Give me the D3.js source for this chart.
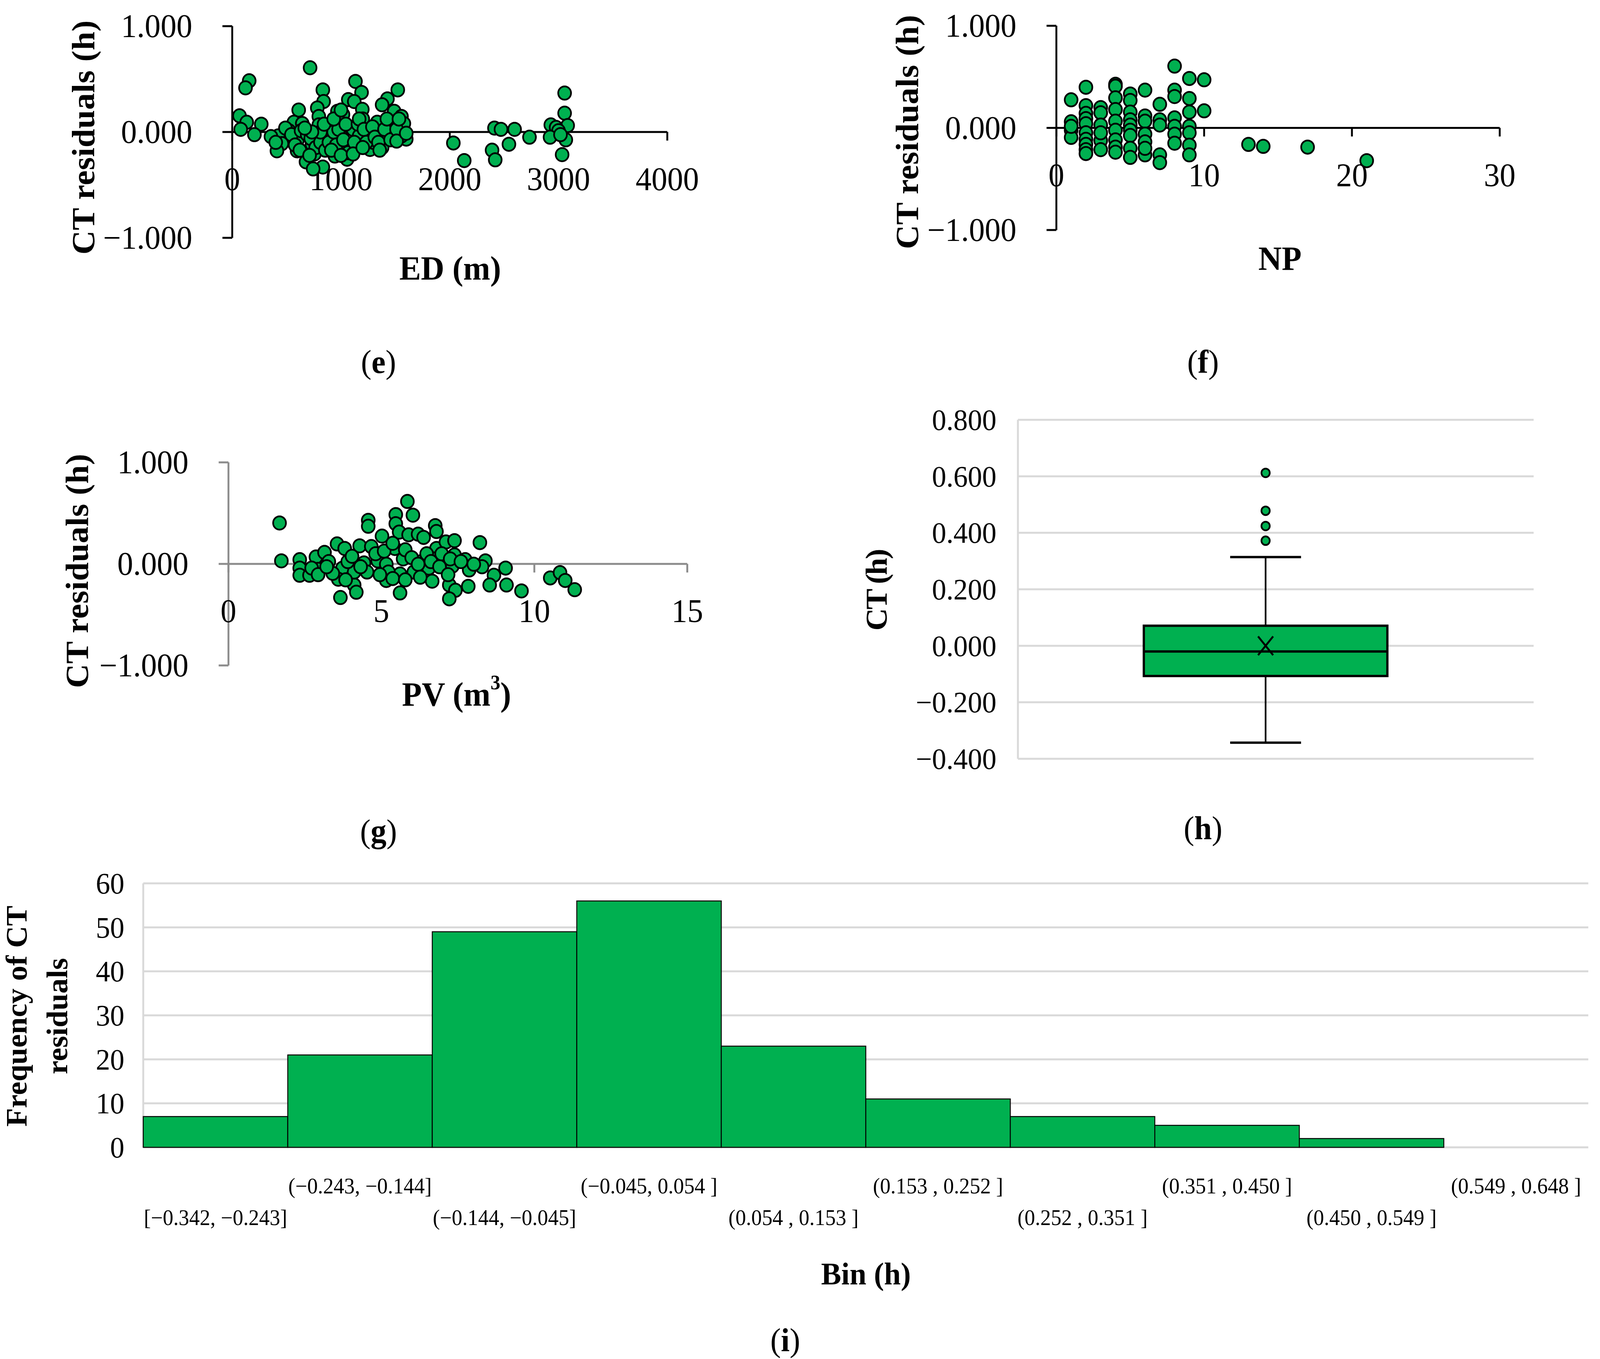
<!DOCTYPE html>
<html><head><meta charset="utf-8">
<script src="https://cdn.jsdelivr.net/npm/d3@7/dist/d3.min.js"></script>
<style>html,body{margin:0;padding:0;background:#fff;width:100%;height:100%;overflow:hidden;} svg{display:block;width:100%;height:100%;}</style>
</head><body><svg id="c" viewBox="0 0 4244 3480" preserveAspectRatio="none"></svg>
<script>
// ---------------- DATA ----------------
const edPoints = [
 [716,0.607],[156,0.484],[122,0.417],[67,0.153],[133,0.092],[78,0.025],[267,0.074],[204,-0.025],
 [1133,0.478],[1189,0.374],[833,0.398],[840,0.288],[782,0.227],[611,0.208],[1067,0.306],[1122,0.288],
 [1196,0.214],[1522,0.398],[1427,0.313],[1378,0.257],[1489,0.196],[1556,0.147],[1578,0.080],[967,0.196],
 [1018,0.165],[796,0.147],[567,0.092],[644,0.080],[796,0.067],[522,0.012],[422,-0.037],[456,-0.110],
 [411,-0.178],[600,-0.074],[596,-0.178],[733,-0.116],[678,-0.282],[756,-0.208],[833,-0.331],[744,-0.349],
 [889,-0.043],[944,-0.227],[1089,-0.147],[1056,-0.257],[1111,0.025],[1267,-0.025],[1267,-0.165],[1378,-0.006],
 [1378,-0.147],[1489,-0.025],[1600,-0.067],[1333,0.092],[1200,0.123],[911,0.061],[1000,-0.037],[1300,-0.098],
 [1167,-0.037],[1433,0.049],[1556,-0.037],
 [2033,-0.104],[2133,-0.270],[2411,0.037],[2471,0.025],[2596,0.025],[2733,-0.049],[2544,-0.116],[2389,-0.172],
 [2418,-0.263],[3056,0.368],[3056,0.178],[2929,0.067],[3084,0.061],[2978,0.043],[3000,0.012],[2922,-0.049],
 [3067,-0.074],[3033,-0.214],[3018,-0.025],
 [356,-0.043],[400,-0.098],[489,0.037],[544,-0.025],[633,0.012],[689,-0.025],[722,-0.061],[767,-0.147],
 [811,-0.098],[856,-0.172],[889,-0.098],[933,0.0],[956,-0.123],[978,0.025],[1022,-0.074],[1044,0.074],
 [1067,-0.196],[1122,-0.098],[1156,0.074],[1167,0.123],[1211,0.025],[1233,-0.098],[1289,0.049],[1311,-0.049],
 [1344,-0.098],[1400,0.025],[1422,0.123],[1456,-0.074],[1511,0.025],[1533,0.123],[811,0.0],[844,0.074],
 [933,0.123],[1000,0.208],[733,0.0],[667,0.037],[578,-0.123],[622,-0.172],[711,-0.221],[911,-0.172],
 [1000,-0.221],[1111,-0.208],[1200,-0.147],[1356,-0.172],[1511,-0.086],[1600,-0.012]
];
const npPoints = [
 [1,0.275],[1,0.060],[1,-0.023],[1,-0.093],[1,0.015],
 [2,0.398],[2,0.218],[2,0.142],[2,0.091],[2,0.041],[2,-0.048],[2,-0.112],[2,-0.162],[2,-0.213],[2,-0.251],
 [3,0.199],[3,0.148],[3,0.028],[3,-0.124],[3,-0.213],[3,-0.048],
 [4,0.427],[4,0.408],[4,0.294],[4,0.180],[4,0.066],[4,-0.023],[4,-0.118],[4,-0.188],[4,-0.238],
 [5,0.332],[5,0.269],[5,0.155],[5,0.079],[5,0.028],[5,-0.023],[5,-0.074],[5,-0.200],[5,-0.289],
 [6,0.370],[6,0.117],[6,0.066],[6,-0.061],[6,-0.137],[6,-0.264],[6,-0.200],
 [7,0.231],[7,0.079],[7,0.028],[7,-0.264],[7,-0.340],
 [8,0.605],[8,0.370],[8,0.307],[8,0.098],[8,0.015],[8,-0.061],[8,-0.150],
 [9,0.484],[9,0.288],[9,0.155],[9,0.015],[9,-0.048],[9,-0.169],[9,-0.264],
 [10,0.471],[10,0.167],
 [13,-0.162],[14,-0.181],[17,-0.188],[21,-0.321]
];
const pvPoints = [
 [1.67,0.403],[1.73,0.030],[2.33,0.042],[2.33,-0.041],[2.33,-0.112],[2.65,-0.112],[2.86,0.068],[2.93,-0.054],
 [3.14,0.113],[3.55,0.197],[3.80,0.152],[3.73,-0.041],[3.59,-0.151],[3.66,-0.331],[4.11,-0.208],[4.18,-0.279],
 [4.11,-0.080],[4.29,0.178],[4.43,0.010],[4.57,0.429],[4.57,0.371],[4.67,0.171],[4.53,-0.080],[4.88,0.030],
 [5.02,0.274],[5.16,-0.003],[5.16,-0.163],[5.47,0.486],[5.47,0.396],[5.44,0.152],[5.58,0.313],[5.71,0.049],
 [5.61,-0.099],[5.61,-0.286],[5.85,0.615],[6.03,0.480],[5.89,0.287],[6.20,0.293],[6.38,0.261],[6.31,0.023],
 [6.55,-0.041],[6.66,-0.170],[6.76,0.377],[6.80,0.319],[6.80,0.152],[6.76,0.049],[7.11,0.216],[7.39,0.229],
 [7.39,0.088],[7.32,-0.022],[7.22,-0.208],[7.42,-0.260],[7.22,-0.344],[7.74,0.042],[7.84,-0.221],[7.87,-0.060],
 [8.22,0.210],[8.40,0.030],[8.29,-0.028],[8.68,-0.112],[8.54,-0.208],[9.06,-0.041],[9.09,-0.208],[9.58,-0.266],
 [10.52,-0.138],[10.84,-0.086],[11.01,-0.163],[11.32,-0.254],
 [2.72,-0.041],[3.28,0.023],[3.41,-0.093],[3.90,0.023],[4.04,0.075],[3.83,-0.157],[4.32,-0.028],[4.81,0.100],
 [5.09,0.126],[5.23,-0.080],[5.37,0.203],[5.78,0.139],[5.99,0.062],[6.06,-0.080],[6.20,-0.003],[6.48,0.100],
 [6.62,0.023],[6.90,-0.028],[6.97,0.100],[7.18,-0.106],[7.25,0.049],[7.60,0.023],[8.02,-0.003],[5.37,-0.144],
 [5.78,-0.157],[6.27,-0.131],[4.95,-0.106],[2.93,-0.106],[3.21,-0.028]
];
const residualTicks = [-1, 0, 1];
const edTicks = [0, 1000, 2000, 3000, 4000];
const npTicks = [0, 10, 20, 30];
const pvTicks = [0, 5, 10, 15];

const boxWhiskers = [-0.343, 0.314];
const boxQuartiles = [-0.107, -0.020, 0.071]; // Q1, median, Q3
const boxMean = 0.000;
const boxOutliers = [0.612, 0.478, 0.424, 0.372];
const boxTicks = [-0.4, -0.2, 0, 0.2, 0.4, 0.6, 0.8];

const binLabels = ["[\u22120.342, \u22120.243]","(\u22120.243, \u22120.144]","(\u22120.144, \u22120.045]","(\u22120.045, 0.054 ]",
 "(0.054 , 0.153 ]","(0.153 , 0.252 ]","(0.252 , 0.351 ]","(0.351 , 0.450 ]","(0.450 , 0.549 ]","(0.549 , 0.648 ]"];
const binCounts = [7, 21, 49, 56, 23, 11, 7, 5, 2, 0];
const freqTicks = [0, 10, 20, 30, 40, 50, 60];

// ---------------- DRAW ----------------
const GREEN = "#00b050";
const FONT = "'Liberation Serif','Times New Roman',serif";
const svg = d3.select("#c").attr("font-family", FONT);
svg.append("rect").attr("width", 4244).attr("height", 3480).attr("fill", "#fff");

function fmt3(v) { const s = Math.abs(v).toFixed(3); return v < -1e-9 ? "\u2212" + s : s; }

function caption(x, y, letter) {
  const t = svg.append("text").attr("x", x).attr("y", y).attr("text-anchor", "middle")
    .attr("dominant-baseline", "central").attr("font-size", 84).attr("fill", "#000");
  t.append("tspan").text("(");
  t.append("tspan").attr("font-weight", "bold").text(letter);
  t.append("tspan").text(")");
}

function scatterPanel(o) {
  const x = d3.scaleLinear().domain(o.xDomain).range(o.xRange);
  const y = d3.scaleLinear().domain([-1, 1]).range(o.yRange);
  const g = svg.append("g");
  const x0 = x(0), y0 = y(0);
  g.append("line").attr("x1", x0).attr("x2", x0).attr("y1", y(-1)).attr("y2", y(1))
    .attr("stroke", o.axis).attr("stroke-width", 5);
  residualTicks.forEach(t => {
    g.append("line").attr("x1", x0 - 26).attr("x2", x0).attr("y1", y(t)).attr("y2", y(t))
      .attr("stroke", o.axis).attr("stroke-width", 5);
    g.append("text").attr("x", x0 - 106).attr("y", y(t)).attr("text-anchor", "end")
      .attr("dominant-baseline", "central").attr("font-size", 84).text(fmt3(t));
  });
  g.append("line").attr("x1", x(o.xDomain[0])).attr("x2", x(o.xDomain[1])).attr("y1", y0).attr("y2", y0)
    .attr("stroke", o.axis).attr("stroke-width", 5);
  o.xTicks.forEach(t => {
    g.append("line").attr("x1", x(t)).attr("x2", x(t)).attr("y1", y0).attr("y2", y0 + 22)
      .attr("stroke", o.axis).attr("stroke-width", 5);
    g.append("text").attr("x", x(t)).attr("y", y0 + 121).attr("text-anchor", "middle")
      .attr("dominant-baseline", "central").attr("font-size", 84).text(t);
  });
  g.append("g").selectAll("circle").data(o.pts).join("circle")
    .attr("cx", d => x(d[0])).attr("cy", d => y(d[1])).attr("r", 17)
    .attr("fill", GREEN).attr("stroke", "#000").attr("stroke-width", 4.5);
  g.append("text").attr("transform", `translate(${o.yl[0]},${o.yl[1]}) rotate(-90)`)
    .attr("text-anchor", "middle").attr("font-weight", "bold").attr("font-size", 86)
    .attr("textLength", 600).attr("lengthAdjust", "spacing").text("CT residuals (h)");
  const xl = g.append("text").attr("x", o.xl[0]).attr("y", o.xl[1]).attr("text-anchor", "middle")
    .attr("dominant-baseline", "central").attr("font-weight", "bold").attr("font-size", 86);
  xl.append("tspan").text(o.xLabel);
  if (o.sup) {
    xl.append("tspan").attr("font-size", 52).attr("dy", -30).text(o.sup);
    xl.append("tspan").attr("dy", 30).text(")");
  }
  caption(o.cap[0], o.cap[1], o.letter);
}

scatterPanel({pts: edPoints, xDomain: [0, 4000], xRange: [616, 1770], yRange: [609, 67], xTicks: edTicks,
  axis: "#000", yl: [250, 352], xl: [1194, 686], xLabel: "ED (m)", cap: [1004, 927], letter: "e"});
scatterPanel({pts: npPoints, xDomain: [0, 30], xRange: [2802, 3978], yRange: [589, 66], xTicks: npTicks,
  axis: "#000", yl: [2435, 338], xl: [3395, 662], xLabel: "NP", cap: [3191, 927], letter: "f"});
scatterPanel({pts: pvPoints, xDomain: [0, 15], xRange: [606, 1823], yRange: [1704, 1184], xTicks: pvTicks,
  axis: "#8c8c8c", yl: [233, 1462], xl: [1211, 1777], xLabel: "PV (m", sup: "3", cap: [1004, 2129], letter: "g"});

// ---- Box plot (h) ----
(function () {
  const y = d3.scaleLinear().domain([-0.4, 0.8]).range([1943, 1075]);
  const left = 2700, right = 4068, cx = 3357;
  const g = svg.append("g");
  boxTicks.forEach(t => {
    g.append("line").attr("x1", left).attr("x2", right).attr("y1", y(t)).attr("y2", y(t))
      .attr("stroke", "#d9d9d9").attr("stroke-width", 5);
    g.append("text").attr("x", 2643).attr("y", y(t)).attr("text-anchor", "end")
      .attr("dominant-baseline", "central").attr("font-size", 76).text(fmt3(t));
  });
  g.append("line").attr("x1", left).attr("x2", left).attr("y1", y(-0.4)).attr("y2", y(0.8))
    .attr("stroke", "#d9d9d9").attr("stroke-width", 5);
  g.append("line").attr("x1", cx).attr("x2", cx).attr("y1", y(boxWhiskers[1])).attr("y2", y(boxQuartiles[2]))
    .attr("stroke", "#000").attr("stroke-width", 4.5);
  g.append("line").attr("x1", cx).attr("x2", cx).attr("y1", y(boxQuartiles[0])).attr("y2", y(boxWhiskers[0]))
    .attr("stroke", "#000").attr("stroke-width", 4.5);
  boxWhiskers.forEach(w => g.append("line").attr("x1", cx - 94).attr("x2", cx + 94).attr("y1", y(w)).attr("y2", y(w))
    .attr("stroke", "#000").attr("stroke-width", 6));
  g.append("rect").attr("x", 3034).attr("width", 646).attr("y", y(boxQuartiles[2]))
    .attr("height", y(boxQuartiles[0]) - y(boxQuartiles[2])).attr("fill", GREEN)
    .attr("stroke", "#000").attr("stroke-width", 6);
  g.append("line").attr("x1", 3034).attr("x2", 3680).attr("y1", y(boxQuartiles[1])).attr("y2", y(boxQuartiles[1]))
    .attr("stroke", "#000").attr("stroke-width", 6);
  const my = y(boxMean);
  g.append("path").attr("d", `M${cx - 20},${my - 24}L${cx + 20},${my + 24}M${cx + 20},${my - 24}L${cx - 20},${my + 24}`)
    .attr("stroke", "#000").attr("stroke-width", 5).attr("fill", "none");
  g.selectAll("circle.out").data(boxOutliers).join("circle").attr("class", "out")
    .attr("cx", cx).attr("cy", d => y(d)).attr("r", 11)
    .attr("fill", GREEN).attr("stroke", "#000").attr("stroke-width", 4.5);
  g.append("text").attr("transform", "translate(2352,1510) rotate(-90)").attr("text-anchor", "middle")
    .attr("font-weight", "bold").attr("font-size", 80).attr("textLength", 210).attr("lengthAdjust", "spacing").text("CT (h)");
  caption(3191, 2121, "h");
})();

// ---- Histogram (i) ----
(function () {
  const x = d3.scaleBand().domain(binLabels).range([380, 4213]).padding(0);
  const y = d3.scaleLinear().domain([0, 60]).range([2938, 2262]);
  const g = svg.append("g");
  freqTicks.forEach(t => {
    g.append("line").attr("x1", 380).attr("x2", 4213).attr("y1", y(t)).attr("y2", y(t))
      .attr("stroke", "#d9d9d9").attr("stroke-width", 5);
    g.append("text").attr("x", 330).attr("y", y(t)).attr("text-anchor", "end")
      .attr("dominant-baseline", "central").attr("font-size", 76).text(t);
  });
  g.append("line").attr("x1", 380).attr("x2", 380).attr("y1", y(0)).attr("y2", y(60))
    .attr("stroke", "#d9d9d9").attr("stroke-width", 5);
  g.selectAll("rect.bar").data(binCounts).join("rect").attr("class", "bar")
    .attr("x", (d, i) => x(binLabels[i])).attr("width", x.bandwidth())
    .attr("y", d => y(d)).attr("height", d => y(0) - y(d))
    .attr("fill", GREEN).attr("stroke", d => d > 0 ? "#000" : "none").attr("stroke-width", 2.5);
  binLabels.forEach((b, i) => {
    g.append("text").attr("x", x(b) + x.bandwidth() / 2).attr("y", i % 2 === 0 ? 3118 : 3037)
      .attr("text-anchor", "middle").attr("dominant-baseline", "central").attr("font-size", 56).text(b);
  });
  const yl = g.append("text").attr("transform", "translate(0,2602) rotate(-90)").attr("text-anchor", "middle")
    .attr("font-weight", "bold").attr("font-size", 78);
  yl.append("tspan").attr("x", 0).attr("y", 70).text("Frequency of CT");
  yl.append("tspan").attr("x", 0).attr("y", 178).text("residuals");
  g.append("text").attr("x", 2297).attr("y", 3262).attr("text-anchor", "middle").attr("dominant-baseline", "central")
    .attr("font-weight", "bold").attr("font-size", 80).text("Bin (h)");
  caption(2083, 3432, "i");
})();
</script></body></html>
